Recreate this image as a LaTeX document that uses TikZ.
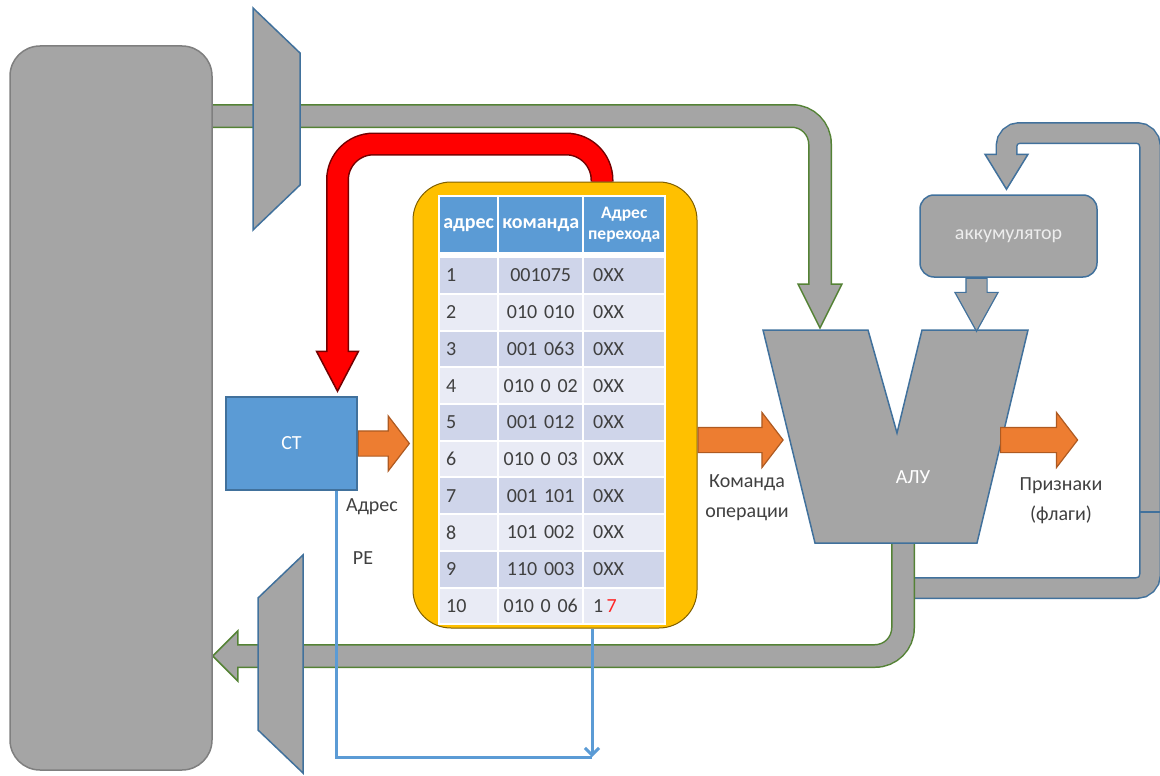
\documentclass[tikz,border=0pt]{standalone}
\usepackage{fontspec}
\setmainfont{Carlito}
\usetikzlibrary{positioning,matrix,arrows.meta,shapes.arrows,backgrounds}

\definecolor{busgray}{HTML}{A5A5A5}
\definecolor{memedge}{HTML}{7F7F7F}
\definecolor{busgreen}{HTML}{548235}
\definecolor{edgeblue}{HTML}{41719C}
\definecolor{cellblue}{HTML}{5B9BD5}
\definecolor{rowdark}{HTML}{CFD5EA}
\definecolor{rowlight}{HTML}{E9EBF5}
\definecolor{romyellow}{HTML}{FFC000}
\definecolor{pushorange}{HTML}{ED7D31}
\definecolor{pushedge}{HTML}{AE5A21}
\definecolor{jumpred}{HTML}{FF0000}
\definecolor{inktext}{HTML}{404040}

\newcommand\datafont{\fontsize{20}{24}\selectfont}
\newcommand\labelfont{\fontsize{20}{30}\selectfont}
\newcommand\hdrfont{\fontsize{20}{22}\selectfont\bfseries}
\newcommand\subhdrfont{\fontsize{17.5}{21}\selectfont\bfseries}

\tikzset{
  bus/.style={line width=21pt, busgray},
  busrim/.style={line width=24pt},
  tiphead/.style={fill=busgray, line width=1.5pt, line join=miter},
  unitbody/.style={fill=busgray, draw=edgeblue, line width=1.5pt},
  push/.style={single arrow, draw=pushedge, fill=pushorange, line width=1.2pt,
    inner xsep=0pt, inner ysep=12pt, single arrow head extend=15pt,
    single arrow tip angle=105, anchor=tail},
  lbl/.style={font=\labelfont, text=inktext, align=center},
  hdr/.style={fill=cellblue, text=white, font=\hdrfont, align=center,
    inner xsep=0pt, text width=#1, minimum height=55pt},
  peline/.style={cellblue, line width=3pt},
}

\begin{document}
\begin{tikzpicture}[x=1pt, y=-1pt]
  \path[use as bounding box] (0,0) rectangle (1160,776);

  % main memory
  \node[draw=memedge, fill=busgray, line width=1.5pt, rounded corners=30pt,
    minimum width=202pt, minimum height=724pt] (mem) at (111,408) {};

  % bus switches
  \filldraw[unitbody] (253,8) -- (300,53) -- (300,185) -- (253,230) -- cycle;
  \filldraw[unitbody] (258,598) -- (303,555) -- (303,773) -- (258,730) -- cycle;

  % program store with its table
  \node[draw=romyellow!50!black, fill=romyellow, line width=1pt, rounded corners=38pt,
    minimum width=284pt, minimum height=446pt] (rom) at (555,405) {};
  \matrix (tbl) [matrix of nodes, anchor=north west, fill=white, inner sep=2pt,
      column sep=2pt, row sep=2pt,
      nodes={fill=rowlight, font=\datafont, text=inktext, minimum height=34.7pt,
        inner ysep=0pt, anchor=center},
      column 1/.style={nodes={text width=45pt, inner xsep=6pt, align=left}},
      column 2/.style={nodes={text width=83pt, inner xsep=0pt, align=center}},
      column 3/.style={nodes={text width=62pt, inner xsep=9pt, align=left}},
      every even row/.style={nodes={fill=rowdark}}] at (438,195) {
    |[hdr=57pt]| адрес & |[hdr=83pt]| команда & |[hdr=80pt, font=\subhdrfont]| {Адрес\\перехода} \\[4pt]
    1 & 001075 & 0XX \\
    2 & 010 010 & 0XX \\
    3 & 001 063 & 0XX \\
    4 & 010 0 02 & 0XX \\
    5 & 001 012 & 0XX \\
    6 & 010 0 03 & 0XX \\
    7 & 001 101 & 0XX \\
    8 & 101 002 & 0XX \\
    9 & 110 003 & 0XX \\
    10 & 010 0 06 & 1\,\textcolor{jumpred!85}{7} \\
  };

  % counter, accumulator, ALU
  \node[draw=edgeblue, fill=cellblue, line width=1.5pt, minimum width=131pt,
    minimum height=93pt, text=white, font=\datafont] (ct) at (291.5,443.5) {СТ};
  \node[unitbody, rounded corners=14pt, minimum width=177pt, minimum height=82pt,
    text=white!93!black, font=\datafont] (acc) at (1008.5,236) {аккумулятор};
  \filldraw[unitbody] (763,330) -- (868,330) -- (897,433) -- (922,330)
    -- (1028,330) -- (977,543) -- (815,543) -- cycle;
  \node[text=white, font=\datafont] (alu) at (913,477) {АЛУ};

  \coordinate (aluA) at (820,328);
  \coordinate (aluOut) at (903,540);
  \coordinate (accIn) at ([xshift=-2pt, yshift=5pt]acc.north);
  \coordinate (ctIn) at ([xshift=46pt, yshift=5pt]ct.north);
  \coordinate (jmp) at ([xshift=47pt]rom.north);
  \coordinate (memIn) at (mem.east |- 0,656);

  \begin{scope}[on background layer]
    % accumulator feedback loop
    \draw[line width=22pt, edgeblue, rounded corners=13pt] (aluOut |- 0,588) -- (1150,588)
      -- (1150,133) -- (accIn |- 0,133) -- ([yshift=33pt]accIn);
    \filldraw[tiphead, draw=edgeblue] (accIn) -- ++(-21.5,-35) -- ++(43,0) -- cycle;
    \draw[bus, line width=19pt, rounded corners=13pt] (aluOut |- 0,588) -- (1150,588)
      -- (1150,133) -- (accIn |- 0,133) -- ([yshift=33pt]accIn);
    \draw[edgeblue, line width=1.2pt] (1139,512) -- (1160,512);

    % operand bus from memory
    \draw[busrim, busgreen, rounded corners=28pt] (mem.center |- 0,116) -| ([yshift=42pt]aluA);
    \filldraw[tiphead, draw=busgreen] (aluA) -- ++(-22,-44) -- ++(44,0) -- cycle;
    \draw[bus, rounded corners=28pt] (mem.center |- 0,116) -| ([yshift=42pt]aluA);

    % result bus back to memory
    \draw[busrim, busgreen, rounded corners=28pt] (aluOut) |- ([xshift=23pt]memIn);
    \filldraw[tiphead, draw=busgreen] (memIn) -- ++(25,-25) -- ++(0,50) -- cycle;
    \draw[bus, rounded corners=28pt] (aluOut) |- ([xshift=23pt]memIn);

    % jump address
    \draw[line width=23pt, jumpred!45!black, rounded corners=36pt] (jmp) |- (ctIn |- 0,144)
      -- ([yshift=38pt]ctIn);
    \filldraw[fill=jumpred, draw=jumpred!45!black, line width=1.5pt] (ctIn) -- ++(-21,-40)
      -- ++(42,0) -- cycle;
    \draw[line width=20pt, jumpred, rounded corners=36pt] (jmp) |- (ctIn |- 0,144)
      -- ([yshift=38pt]ctIn);
  \end{scope}

  % data flow arrows
  \node[push, minimum height=51pt] (ctout) at (ct.east) {};
  \node[push, minimum height=85pt] (romout) at ([yshift=-35pt]rom.east) {};
  \node[push, minimum height=77pt] (flagout) at (1000,440) {};
  \node[push, draw=edgeblue, fill=busgray, rotate=-90, inner ysep=10pt,
    single arrow head extend=11pt, single arrow tip angle=58,
    minimum height=53pt] (accout) at ([xshift=-32pt]acc.south) {};

  % labels
  \node[lbl] (adrlbl) at (372,507) {Адрес};
  \node[lbl] (pelbl) at (363,558) {РЕ};
  \node[lbl] (cmdlbl) at (747,498) {Команда\\операции};
  \node[lbl] (flaglbl) at (1061,501) {Признаки\\(флаги)};

  % PE address line
  \coordinate (peCorner) at (592,757);
  \draw[peline] ([xshift=44.5pt]ct.south) |- (peCorner);
  \draw[peline, -{Straight Barb[length=7pt, width=14pt]}] ([xshift=37pt]rom.south) -- (peCorner);
\end{tikzpicture}
\end{document}
